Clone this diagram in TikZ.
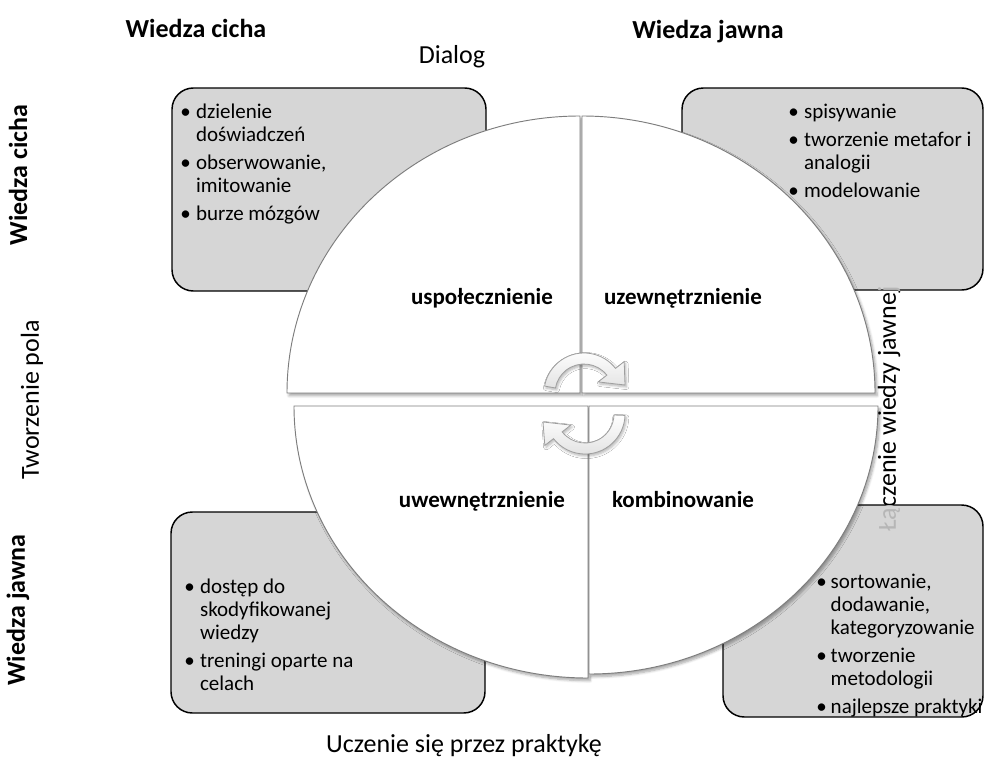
\documentclass[tikz,border=0pt]{standalone}
\usepackage{fontspec}
\setmainfont{Carlito}
\usetikzlibrary{shadows.blur}
\definecolor{boxgray}{RGB}{214,214,214}
\definecolor{quadline}{RGB}{125,125,125}
\definecolor{faint}{RGB}{182,182,182}
\newcommand{\fTitle}{\fontsize{19.5}{23}\selectfont}
\newcommand{\fLab}{\fontsize{17.25}{20}\selectfont\bfseries}
\newcommand{\fBody}{\fontsize{15.75}{17.25}\selectfont}
\begin{document}
\begin{tikzpicture}[x=0.75pt,y=-0.75pt,
  kbox/.style={draw=black,line width=1.1pt,fill=boxgray,rounded corners=16pt},
  quad/.style={draw=quadline,line width=0.7pt,fill=white,
    blur shadow={shadow xshift=1.5pt,shadow yshift=-2pt,shadow opacity=35,shadow blur steps=6}},
  cyc/.style={draw=gray!75,line width=0.6pt,top color=white,bottom color=gray!22,
    blur shadow={shadow xshift=1pt,shadow yshift=-1.5pt,shadow opacity=30,shadow blur steps=5}},
  ttl/.style={inner sep=0pt,font=\fTitle},
  ttlb/.style={inner sep=0pt,font=\fTitle\bfseries},
  lab/.style={inner sep=0pt,font=\fLab,anchor=base},
  body/.style={inner sep=0pt,anchor=base west,font=\fBody}
]
\useasboundingbox (0,0) rectangle (984,760);

% headings
\node[ttlb] (hTL) at (196,28) {Wiedza cicha};
\node[ttlb] (hTR) at (708,32) {Wiedza jawna};
\node[ttl] (hDialog) at (452,57) {Dialog};
\node[ttlb,rotate=90] (vTL) at (18,175) {Wiedza cicha};
\node[ttl,rotate=90] (vMid) at (32,400) {Tworzenie pola};
\node[ttlb,rotate=90] (vBL) at (18,610) {Wiedza jawna};
\node[ttl] (hBottom) at (464,746) {Uczenie się przez praktykę};
\node[ttl,rotate=90] (vRight) at (889,409) {Łączenie wiedzy jawnej};

% boxes
\draw[kbox] (172,88) rectangle (486,291);
\draw[kbox] (682,88) rectangle (983,290);
\draw[kbox] (171,512) rectangle (485,713);
\draw[kbox] (723,505) rectangle (983,717);

% faint part of right label seen through the boxes
\begin{scope}
  \clip (682,88) rectangle (983,290) (723,505) rectangle (983,717);
  \node[ttl,rotate=90,text=faint] (vRightFaint) at (889,409) {Łączenie wiedzy jawnej};
\end{scope}

% box texts
\node[body] (tTL) at (180,118) {\begin{tabular}[t]{@{}l@{\hspace{4pt}}l@{}}•&dzielenie\\&doświadczeń\\[3.75pt]•&obserwowanie,\\&imitowanie\\[3.75pt]•&burze mózgów\end{tabular}};
\node[body] (tTR) at (788,118) {\begin{tabular}[t]{@{}l@{\hspace{4pt}}l@{}}•&spisywanie\\[3.75pt]•&tworzenie metafor i\\&analogii\\[3.75pt]•&modelowanie\end{tabular}};
\node[body] (tBL) at (184,593) {\begin{tabular}[t]{@{}l@{\hspace{4pt}}l@{}}•&dostęp do\\&skodyfikowanej\\&wiedzy\\[3.75pt]•&treningi oparte na\\&celach\end{tabular}};
\node[body] (tBR) at (816,588) {\begin{tabular}[t]{@{}l@{\hspace{3pt}}l@{}}•&sortowanie,\\&dodawanie,\\&kategoryzowanie\\[3.75pt]•&tworzenie\\&metodologii\\[3.75pt]•&najlepsze praktyki\end{tabular}};

% circle quadrants
\draw[quad] (580,393) -- ++(-293,0) arc[start angle=180,end angle=270,x radius=293,y radius=277] -- cycle;
\draw[quad] (582,393) -- ++(0,-277) arc[start angle=270,end angle=360,x radius=293,y radius=277] -- cycle;
\draw[quad] (588,406) -- ++(-294,0) arc[start angle=180,end angle=90,x radius=294,y radius=272] -- cycle;
\draw[quad] (589,406) -- ++(289,0) arc[start angle=0,end angle=90,x radius=289,y radius=268] -- cycle;

% quadrant labels
\node[lab] (qTL) at (482,304) {uspołecznienie};
\node[lab] (qTR) at (683,304) {uzewnętrznienie};
\node[lab] (qBL) at (482,507) {uwewnętrznienie};
\node[lab] (qBR) at (683,507) {kombinowanie};

% cycle arrows
\begin{scope}[shift={(584,393)}]
  \draw[cyc] (190:40) arc[start angle=190,end angle=322,radius=40] -- (322:51) -- (41,-8) -- (322:18) -- (322:29) arc[start angle=322,end angle=190,radius=29] -- cycle;
\end{scope}
\begin{scope}[shift={(585,414)}]
  \draw[cyc] (2:40) arc[start angle=2,end angle=142,radius=40] -- (142:51) -- (-42,8) -- (142:18) -- (142:29) arc[start angle=142,end angle=2,radius=29] -- cycle;
\end{scope}
\end{tikzpicture}
\end{document}
